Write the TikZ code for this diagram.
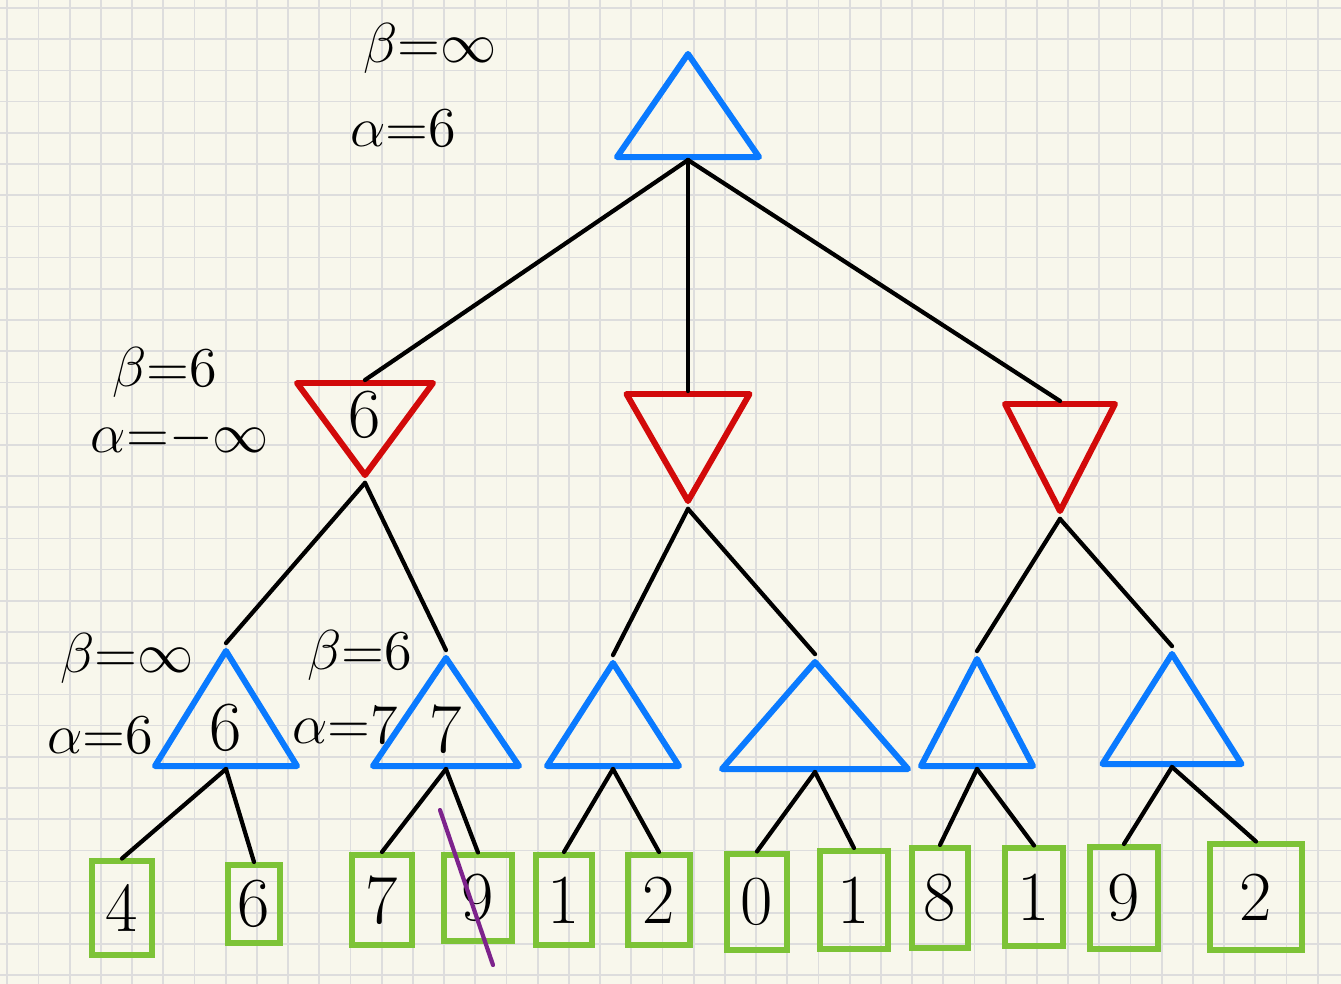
\RequirePackage{fix-cm}
\documentclass[tikz,border=0pt]{standalone}
\usepackage{amsmath,amssymb}
\usetikzlibrary{shapes.geometric,positioning,calc}
\definecolor{paper}{RGB}{248,247,236}
\definecolor{gridgray}{RGB}{221,221,221}
\definecolor{penblue}{RGB}{10,122,255}
\definecolor{penred}{RGB}{210,10,10}
\definecolor{pengreen}{RGB}{125,195,55}
\definecolor{penpurple}{RGB}{125,35,140}

\begin{document}
\begin{tikzpicture}[x=0.01cm,y=-0.01cm,
  maxnode/.style={isosceles triangle,isosceles triangle stretches,shape border rotate=90,
    draw=penblue,line width=1.7pt,line join=round,inner sep=0pt,anchor=lower side,
    font=\fontsize{20}{24}\selectfont},
  minnode/.style={maxnode,shape border rotate=270,draw=penred},
  leafnode/.style={draw=pengreen,line width=1.7pt,inner sep=0pt,font=\fontsize{20}{24}\selectfont},
  branch/.style={line width=1.2pt,line cap=round},
  prune/.style={penpurple,line width=1.2pt,line cap=round},
  ablabel/.style={inner sep=0pt,font=\fontsize{16}{19}\selectfont}]
% squared paper
\fill[paper] (0,0) rectangle (1341,984);
\useasboundingbox (0,0) rectangle (1341,984);
\foreach \i in {0,...,42}
  \draw[gridgray,line width=0.5pt] ({7.3+31.2*\i},0) -- ({7.3+31.2*\i},984);
\foreach \j in {0,...,31}
  \draw[gridgray,line width=0.5pt] (0,{8+31.2*\j}) -- (1341,{8+31.2*\j});
% root (max)
\node[maxnode,minimum width=1.42cm,minimum height=1.03cm] (root) at (688,160) {};
\node[ablabel] (rootb) at (430,48) {$\beta{=}\infty$};
\node[ablabel] (roota) at (403,128) {$\alpha{=}6$};
% min layer
\node[minnode,minimum width=1.36cm,minimum height=0.92cm] (m1) at (365,380) {6};
\node[minnode,minimum width=1.23cm,minimum height=1.07cm] (m2) at (688,391) {};
\node[minnode,minimum width=1.10cm,minimum height=1.07cm] (m3) at (1060,401) {};
\node[ablabel] (m1b) at (165,372) {$\beta{=}6$};
\node[ablabel] (m1a) at (180,438) {$\alpha{=}{-}\infty$};
\foreach \c in {m1,m2,m3}
  \draw[branch] (root.lower side) -- (\c.lower side);
% max layer
\node[maxnode,minimum width=1.42cm,minimum height=1.15cm] (a1) at (226,769) {6};
\node[maxnode,minimum width=1.46cm,minimum height=1.08cm] (a2) at (446,769) {7};
\node[maxnode,minimum width=1.32cm,minimum height=1.03cm] (a3) at (613,769) {};
\node[maxnode,minimum width=1.86cm,minimum height=1.07cm] (a4) at (815,772) {};
\node[maxnode,minimum width=1.12cm,minimum height=1.07cm] (a5) at (977,769) {};
\node[maxnode,minimum width=1.39cm,minimum height=1.10cm] (a6) at (1172,767) {};
\node[ablabel] (a1b) at (127,658) {$\beta{=}\infty$};
\node[ablabel] (a1a) at (100,735) {$\alpha{=}6$};
\node[ablabel] (a2b) at (360,655) {$\beta{=}6$};
\node[ablabel] (a2a) at (345,725) {$\alpha{=}7$};
\foreach \p/\c in {m1/a1,m1/a2,m2/a3,m2/a4,m3/a5,m3/a6}
  \draw[branch] (\p.apex) -- (\c.apex);
% leaves
\foreach \n/\v/\x/\y/\w/\h in {l1/4/122/908/0.60/0.93, l2/6/254/904/0.52/0.78,
    l3/7/382/900/0.60/0.90, l4/9/478/898/0.67/0.85, l5/1/564/900/0.55/0.90,
    l6/2/659/900/0.62/0.90, l7/0/757/902/0.60/0.95, l8/1/854/900/0.68/0.98,
    l9/8/940/898/0.55/1.00, l10/1/1034/897/0.58/0.97, l11/9/1124/898/0.68/1.02,
    l12/2/1256/897/0.92/1.05}
  \node[leafnode,minimum width=\w cm,minimum height=\h cm] (\n) at (\x,\y) {\v};
\foreach \p/\c in {a1/l1,a1/l2,a2/l3,a2/l4,a3/l5,a3/l6,a4/l7,a4/l8,a5/l9,a5/l10,a6/l11,a6/l12}
  \draw[branch] (\p.lower side) -- (\c.north);
% pruned leaf
\coordinate (cut1) at (440,810);
\coordinate (cut2) at (493,965);
\draw[prune] (cut1) -- (cut2);
\end{tikzpicture}
\end{document}
